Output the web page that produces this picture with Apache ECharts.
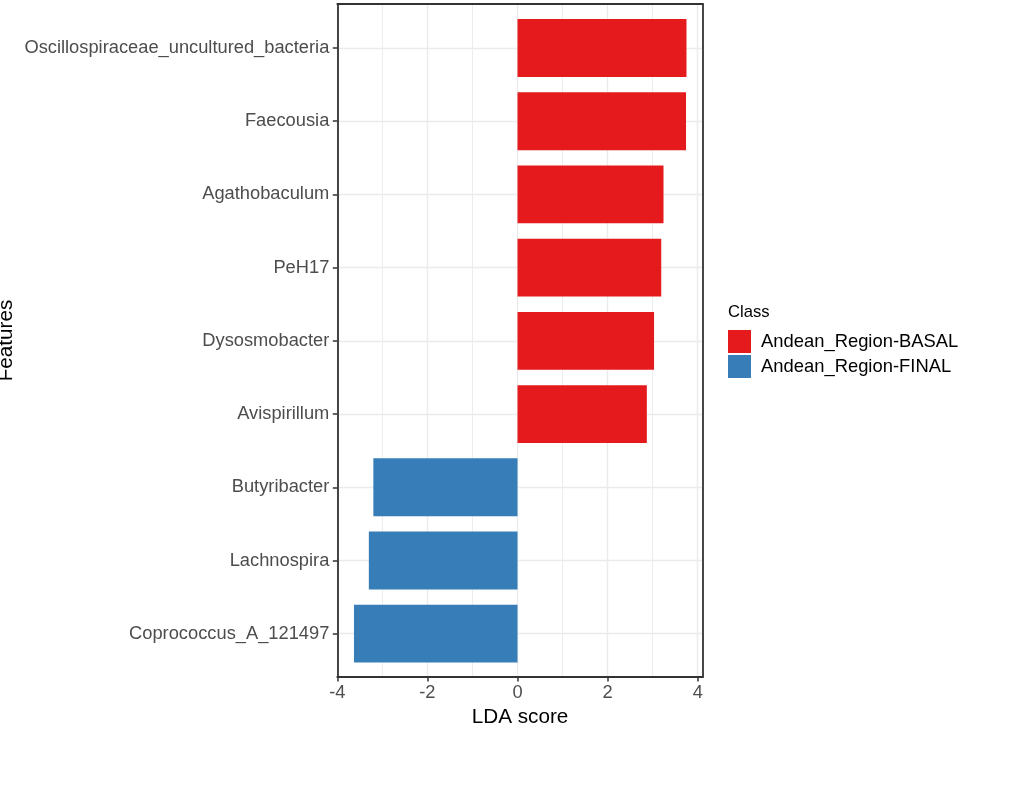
<!DOCTYPE html>
<html>
<head>
<meta charset="utf-8">
<script src="https://cdn.jsdelivr.net/npm/echarts@6/dist/echarts.min.js"></script>
<style>
  html, body { margin: 0; padding: 0; background: #fff; }
  #main { width: 1032px; height: 792px; }
</style>
</head>
<body>
<div id="main"></div>
<script>
// data
var features = ['Oscillospiraceae_uncultured_bacteria', 'Faecousia', 'Agathobaculum', 'PeH17',
  'Dysosmobacter', 'Avispirillum', 'Butyribacter', 'Lachnospira', 'Coprococcus_A_121497'];
var basal = [3.75, 3.74, 3.24, 3.19, 3.03, 2.87, null, null, null];
var final = [null, null, null, null, null, null, -3.20, -3.30, -3.63];
var xTicks = [-4, -2, 0, 2, 4];
var xMinor = [-3, -1, 1, 3];
var classes = ['Andean_Region-BASAL', 'Andean_Region-FINAL'];

var font = 'Liberation Sans, Arial, sans-serif';
var gridColor = '#EBEBEB';
var border = { show: true, onZero: false, lineStyle: { color: '#333', width: 1.8 } };

var chartDom = document.getElementById('main');
var myChart = echarts.init(chartDom);

var option = {
  animation: false,
  textStyle: { fontFamily: font },
  title: {
    text: 'Class',
    left: 728,
    top: 304,
    padding: 0,
    textStyle: { fontSize: 16.6, fontWeight: 'normal', color: '#000', fontFamily: font }
  },
  legend: {
    orient: 'vertical',
    left: 728,
    top: 330,
    padding: 0,
    icon: 'rect',
    itemWidth: 23,
    itemHeight: 23,
    itemGap: 2,
    selectedMode: false,
    data: classes,
    textStyle: { fontSize: 18.4, color: '#000', fontFamily: font, padding: [0, 0, 0, 5] }
  },
  grid: [
    // full panel: border, x axis, vertical grid lines
    { left: 337.3, right: 329.3, top: 4, bottom: 115, outerBoundsMode: 'none' },
    // category centres span, bars live here
    { left: 337.3, right: 329.3, top: 48, bottom: 158.3, outerBoundsMode: 'none' }
  ],
  xAxis: [
    {
      gridIndex: 0, type: 'value', min: -4, max: 4.11, position: 'bottom',
      name: 'LDA score', nameLocation: 'middle', nameGap: 27,
      nameTextStyle: { fontSize: 20.7, color: '#000', fontFamily: font },
      axisLine: border,
      axisTick: { show: true, length: 4.5, lineStyle: { color: '#333', width: 1.5 }, customValues: xTicks },
      axisLabel: { fontSize: 18.3, color: '#4D4D4D', margin: 7, customValues: xTicks, fontFamily: font },
      splitLine: { show: true, lineStyle: { color: gridColor, width: 1.4 } }
    },
    {
      gridIndex: 0, type: 'value', min: -4, max: 4.11, position: 'top',
      axisLine: border,
      axisTick: { show: false, customValues: xMinor },
      axisLabel: { show: false, customValues: xMinor },
      splitLine: { show: true, lineStyle: { color: gridColor, width: 0.9 } }
    },
    {
      gridIndex: 1, type: 'value', min: -4, max: 4.11, show: false
    }
  ],
  yAxis: [
    {
      gridIndex: 0, type: 'value', min: 0, max: 1, position: 'left',
      name: 'Features', nameLocation: 'middle', nameGap: 321,
      nameTextStyle: { fontSize: 20.7, color: '#000', fontFamily: font },
      axisLine: border, axisTick: { show: false }, axisLabel: { show: false },
      splitLine: { show: false }
    },
    {
      gridIndex: 0, type: 'value', min: 0, max: 1, position: 'right',
      axisLine: border, axisTick: { show: false }, axisLabel: { show: false },
      splitLine: { show: false }
    },
    {
      gridIndex: 1, type: 'category', data: features, inverse: true, boundaryGap: false, position: 'left',
      axisLine: { show: false, onZero: false },
      axisTick: { show: true, length: 4.5, lineStyle: { color: '#333', width: 1.5 } },
      axisLabel: { fontSize: 18.3, color: '#4D4D4D', margin: 8, fontFamily: font },
      splitLine: { show: true, lineStyle: { color: gridColor, width: 1.4 } }
    }
  ],
  series: [
    {
      name: classes[0], type: 'bar', xAxisIndex: 2, yAxisIndex: 2,
      data: basal, barWidth: '79%', barGap: '-100%', clip: false,
      itemStyle: { color: '#E41A1C' }, emphasis: { disabled: true }
    },
    {
      name: classes[1], type: 'bar', xAxisIndex: 2, yAxisIndex: 2,
      data: final, barWidth: '79%', barGap: '-100%', clip: false,
      itemStyle: { color: '#377EB8' }, emphasis: { disabled: true }
    }
  ]
};

myChart.setOption(option);

window.addEventListener('resize', () => myChart.resize());
</script>
</body>
</html>
